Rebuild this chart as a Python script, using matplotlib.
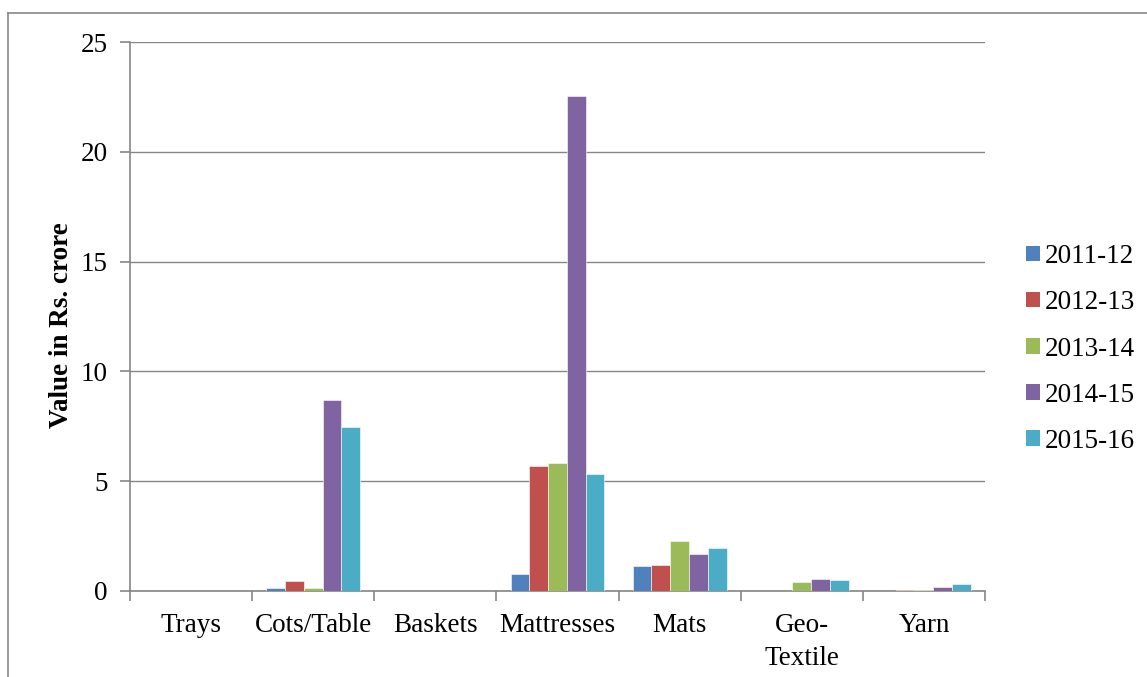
import matplotlib
matplotlib.use("Agg")
import matplotlib.pyplot as plt
import numpy as np
from matplotlib.patches import Patch
from matplotlib.lines import Line2D

categories = ["Trays", "Cots/Table", "Baskets", "Mattresses", "Mats", "Geo-\nTextile", "Yarn"]
years = ["2011-12", "2012-13", "2013-14", "2014-15", "2015-16"]
v_2011_12 = [0, 0.14, 0, 0.77, 1.15, 0, 0.02]
v_2012_13 = [0, 0.45, 0, 5.70, 1.18, 0, 0.05]
v_2013_14 = [0, 0.13, 0, 5.85, 2.29, 0.40, 0.05]
v_2014_15 = [0, 8.72, 0, 22.55, 1.70, 0.55, 0.20]
v_2015_16 = [0, 7.47, 0, 5.33, 1.96, 0.49, 0.33]
series = [v_2011_12, v_2012_13, v_2013_14, v_2014_15, v_2015_16]
colors = ["#4F81BD", "#C0504D", "#9BBB59", "#8064A2", "#4BACC6"]
yticks = [0, 5, 10, 15, 20, 25]

FS = 19.5
plt.rcParams['font.family'] = ['Liberation Serif', 'DejaVu Serif']
fig = plt.figure(figsize=(11.47, 6.77), dpi=100)
ax = fig.add_axes([130/1147, 1-591/677, (985-130)/1147, (591-42)/677])

gray = "#868686"
n = len(series)
w = 1/(n + 1.5)
x = np.arange(len(categories))
for i, (vals, c, lab) in enumerate(zip(series, colors, years)):
    ax.bar(x + (i - (n-1)/2)*w, vals, width=w, color=c, label=lab, zorder=3,
           edgecolor="white", linewidth=0.4)

ax.set_xlim(-0.5, len(categories)-0.5)
ax.set_ylim(0, 25)
ax.set_yticks(yticks)
ax.set_yticklabels([str(t) for t in yticks], fontsize=FS)
ax.yaxis.grid(True, color=gray, linewidth=1.0, zorder=0)
ax.set_axisbelow(True)

ax.set_xticks(np.arange(-0.5, len(categories), 1.0))
ax.set_xticklabels([])
ax.set_xticks(x, minor=True)
ax.set_xticklabels(categories, minor=True, fontsize=FS, linespacing=1.4)
ax.tick_params(axis='x', which='minor', length=0, pad=16)
ax.tick_params(axis='x', which='major', length=7, color=gray, width=1.2)
ax.tick_params(axis='y', length=7, color=gray, width=1.2, pad=9)
for s in ["top", "right"]:
    ax.spines[s].set_visible(False)
for s in ["left", "bottom"]:
    ax.spines[s].set_color(gray)
    ax.spines[s].set_linewidth(1.2)

ax.set_ylabel("Value in Rs. crore", fontsize=FS, fontweight="bold")
ax.yaxis.set_label_coords(-0.066, 0.485)

handles = [Patch(facecolor=c, edgecolor='none') for c in colors]
leg = fig.legend(handles, years, loc="center left", bbox_to_anchor=(1026/1147, 1-349/677),
                 frameon=False, fontsize=FS, handlelength=0.5, handleheight=0.5,
                 handletextpad=0.2, labelspacing=0.78, borderaxespad=0, borderpad=0)

# outer chart border
fig.add_artist(Line2D([8/1147, 8/1147], [0, 1-13/677], transform=fig.transFigure, color=gray, linewidth=1.2))
fig.add_artist(Line2D([8/1147, 1], [1-13/677, 1-13/677], transform=fig.transFigure, color=gray, linewidth=1.2))

fig.savefig("out.png", dpi=100)
